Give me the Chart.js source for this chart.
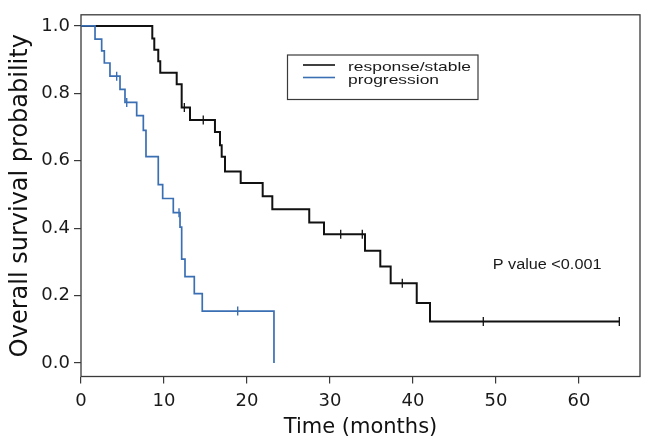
<!DOCTYPE html>
<html><head><meta charset="utf-8">
<script src="https://cdn.jsdelivr.net/npm/chart.js@4/dist/chart.umd.min.js"></script>
<style>html,body{margin:0;padding:0;background:#fff;} #wrap{width:646px;height:442px;position:relative;}</style>
</head><body><div id="wrap"><canvas id="c"></canvas></div>
<script>
// ---- data ----
const seriesNames = ['response/stable', 'progression'];
const respTimes = [0, 8.59, 8.83, 9.31, 9.55, 11.53, 12.13, 13.13, 16.14, 16.75, 16.95, 17.35, 19.24, 21.89, 23.05, 27.5, 29.28, 34.22, 36.06, 37.31, 40.45, 42.05, 64.86];
const respSurv  = [1, 0.963, 0.929, 0.895, 0.861, 0.827, 0.758, 0.721, 0.685, 0.646, 0.612, 0.568, 0.534, 0.495, 0.456, 0.417, 0.382, 0.333, 0.286, 0.237, 0.178, 0.123, 0.123];
const respCensorTimes = [12.45, 14.73, 31.29, 33.89, 38.71, 48.47, 64.86];
const respCensorSurv  = [0.758, 0.721, 0.382, 0.382, 0.237, 0.123, 0.123];
const progTimes = [0, 1.69, 2.49, 2.81, 3.49, 4.70, 5.30, 6.71, 7.51, 7.83, 9.31, 9.84, 11.12, 11.93, 12.13, 12.53, 13.65, 14.61, 23.25];
const progSurv  = [1, 0.961, 0.926, 0.890, 0.851, 0.812, 0.773, 0.734, 0.690, 0.612, 0.529, 0.488, 0.446, 0.403, 0.308, 0.256, 0.206, 0.154, 0];
const progCensorTimes = [4.30, 5.51, 11.81, 18.88];
const progCensorSurv  = [0.851, 0.773, 0.446, 0.154];
const xTickValues = [0, 10, 20, 30, 40, 50, 60];
const yTickValues = [0, 0.2, 0.4, 0.6, 0.8, 1.0];
const xTitle = 'Time (months)';
const yTitle = 'Overall survival probability';
const pValueText = 'P value <0.001';

const colors = ['#111111', '#3a6fb4'];
const toPts = (xs, ys) => xs.map((x, i) => ({x: x, y: ys[i]}));

const FONT = 'DejaVu Sans';
const TEXT_FONT = 'Liberation Sans';
Chart.defaults.font.family = FONT;
Chart.defaults.color = '#1a1a1a';

function stretchedText(ctx, text, x, y, size, sx) {
  ctx.save();
  ctx.font = size + 'px "' + TEXT_FONT + '"';
  ctx.textBaseline = 'alphabetic';
  ctx.textAlign = 'left';
  ctx.translate(x, y);
  ctx.scale(sx, 1);
  ctx.fillText(text, 0, 0);
  ctx.restore();
}

const framePlugin = {
  id: 'frame',
  beforeDatasetsDraw(chart) {
    const {ctx, chartArea: a} = chart;
    ctx.save();
    ctx.strokeStyle = '#3a3a3a';
    ctx.lineWidth = 1.3;
    ctx.strokeRect(a.left, a.top, a.right - a.left, a.bottom - a.top);
    ctx.restore();
  },
  afterDraw(chart) {
    const {ctx, scales} = chart;
    ctx.save();
    // legend box
    const bx = 287.5, by = 55, bw = 190.5, bh = 44.5;
    ctx.strokeStyle = '#3a3a3a';
    ctx.lineWidth = 1.2;
    ctx.strokeRect(bx, by, bw, bh);
    const lineY = [65, 77.5];
    const baseY = [71, 83.5];
    ctx.fillStyle = '#1a1a1a';
    seriesNames.forEach((name, i) => {
      ctx.strokeStyle = colors[i];
      ctx.lineWidth = 1.6;
      ctx.beginPath();
      ctx.moveTo(bx + 15.5, lineY[i]);
      ctx.lineTo(bx + 47.5, lineY[i]);
      ctx.stroke();
      stretchedText(ctx, name, bx + 60.5, baseY[i], 13, 1.34);
    });
    // p value
    stretchedText(ctx, pValueText, scales.x.getPixelForValue(49.6), scales.y.getPixelForValue(0.28), 14, 1.16);
    ctx.restore();
  }
};

new Chart(document.getElementById('c'), {
  type: 'scatter',
  data: {
    datasets: [
      { label: seriesNames[1], data: toPts(progTimes, progSurv), showLine: true, stepped: 'before',
        borderColor: colors[1], borderWidth: 1.7, pointRadius: 0, fill: false, order: 1 },
      { label: seriesNames[1] + ' censored', data: toPts(progCensorTimes, progCensorSurv), showLine: false,
        pointStyle: 'line', rotation: 90, pointRadius: 4.5, borderColor: colors[1], pointBorderWidth: 1.4, order: 1 },
      { label: seriesNames[0], data: toPts(respTimes, respSurv), showLine: true, stepped: 'before',
        borderColor: colors[0], borderWidth: 2, pointRadius: 0, fill: false, order: 2 },
      { label: seriesNames[0] + ' censored', data: toPts(respCensorTimes, respCensorSurv), showLine: false,
        pointStyle: 'line', rotation: 90, pointRadius: 4.5, borderColor: colors[0], pointBorderWidth: 1.3, order: 2 }
    ]
  },
  options: {
    responsive: true, maintainAspectRatio: false, animation: false,
    layout: { padding: { top: 9, right: 6, left: 0, bottom: 0 } },
    plugins: { legend: { display: false }, tooltip: { enabled: false } },
    scales: {
      x: {
        type: 'linear', min: 0, max: 67.35,
        afterBuildTicks: s => { s.ticks = xTickValues.map(v => ({value: v})); },
        afterFit: s => { s.height = 65.5; },
        grid: { drawOnChartArea: false, drawTicks: true, tickLength: 7, color: '#3a3a3a', lineWidth: 1.2 },
        border: { display: false },
        ticks: { font: { size: 18 }, padding: 7, maxRotation: 0, autoSkip: false, color: '#1a1a1a' },
        title: { display: true, text: xTitle, font: { size: 21 }, padding: { top: 0, bottom: 2 }, color: '#111' }
      },
      y: {
        type: 'linear', min: -0.04, max: 1.033,
        afterBuildTicks: s => { s.ticks = yTickValues.map(v => ({value: v})); },
        afterFit: s => { s.width = 81; },
        grid: { drawOnChartArea: false, drawTicks: true, tickLength: 7, color: '#3a3a3a', lineWidth: 1.2 },
        border: { display: false },
        ticks: { font: { size: 18 }, padding: 4, color: '#1a1a1a', callback: v => Number(v).toFixed(1) },
        title: { display: true, text: yTitle, font: { size: 24 }, padding: { top: 6, bottom: 0 }, color: '#111' }
      }
    }
  },
  plugins: [framePlugin]
});
</script></body></html>
